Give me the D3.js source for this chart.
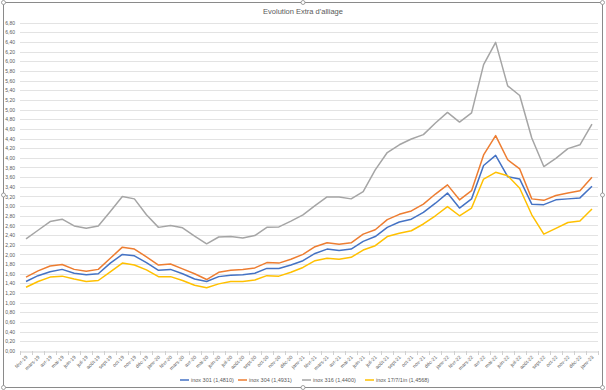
<!DOCTYPE html>
<html><head><meta charset="utf-8">
<script src="https://cdn.jsdelivr.net/npm/d3@7"></script>
<style>html,body{margin:0;padding:0;background:#fff;}svg{display:block;font-family:"Liberation Sans",Arial,sans-serif;}</style>
</head><body>
<svg id="c" width="606" height="390"></svg>
<script>
const monthNames = ["janv","févr","mars","avr","mai","juin","juil","août","sept","oct","nov","déc"];
const categories = [];
for (let k = 1; k <= 48; k++) { const m = k % 12, y = 19 + Math.floor(k / 12); categories.push(monthNames[m] + "-" + y); }

const inox301 = [1.44,1.56,1.64,1.69,1.61,1.58,1.60,1.82,2.00,1.97,1.83,1.67,1.69,1.60,1.49,1.44,1.54,1.57,1.58,1.61,1.71,1.71,1.78,1.87,2.02,2.11,2.08,2.11,2.27,2.37,2.56,2.67,2.73,2.87,3.06,3.27,2.96,3.15,3.84,4.05,3.61,3.56,3.04,3.03,3.13,3.15,3.17,3.41];
const inox304 = [1.53,1.66,1.76,1.79,1.69,1.65,1.69,1.92,2.15,2.11,1.95,1.78,1.80,1.70,1.60,1.48,1.63,1.67,1.69,1.72,1.83,1.82,1.90,2.00,2.16,2.24,2.21,2.24,2.42,2.51,2.72,2.83,2.90,3.04,3.25,3.44,3.13,3.32,4.06,4.46,3.96,3.77,3.15,3.12,3.22,3.27,3.32,3.60];
const inox316 = [2.32,2.50,2.68,2.73,2.59,2.54,2.59,2.89,3.20,3.15,2.82,2.56,2.60,2.55,2.38,2.22,2.36,2.37,2.34,2.39,2.56,2.57,2.69,2.82,3.01,3.19,3.19,3.15,3.30,3.75,4.11,4.27,4.39,4.48,4.72,4.94,4.74,4.93,5.93,6.39,5.49,5.29,4.41,3.82,3.99,4.19,4.27,4.70];
const inox1771 = [1.32,1.44,1.53,1.55,1.49,1.44,1.46,1.64,1.82,1.78,1.68,1.54,1.54,1.46,1.36,1.31,1.39,1.44,1.44,1.47,1.56,1.55,1.63,1.73,1.87,1.92,1.90,1.94,2.09,2.18,2.37,2.44,2.49,2.63,2.80,2.99,2.80,2.96,3.56,3.70,3.63,3.37,2.82,2.42,2.54,2.66,2.69,2.94];
const seriesNames = ["inox 301 (1,4810)","inox 304 (1,4931)","inox 316 (1,4400)","inox 17/7/1in (1,4568)"];
const seriesColors = ["#4472C4","#ED7D31","#A5A5A5","#FFC000"];
const yTicks = d3.range(0, 6.81, 0.2);

const svg = d3.select("#c");
// chart frame
svg.append("rect").attr("x",3.5).attr("y",2.5).attr("width",599).attr("height",385).attr("rx",2)
  .attr("fill","#fff").attr("stroke","#8a8a8a").attr("stroke-width",1);

const L = 20, R = 598, T = 22.6, B = 351;
const x = d3.scaleBand().domain(categories).range([L, R]);
const y = d3.scaleLinear().domain([0, 6.8]).range([B, T]);

svg.append("text").attr("x",303).attr("y",14).attr("text-anchor","middle")
  .attr("font-size",7.5).attr("fill","#595959").text("Evolution Extra d'alliage");

// gridlines
svg.append("g").selectAll("line").data(yTicks.slice(1)).join("line")
  .attr("x1",L).attr("x2",R).attr("y1",d=>Math.round(y(d))+0.5).attr("y2",d=>Math.round(y(d))+0.5)
  .attr("stroke","#e3e3e3").attr("stroke-width",1);

// y axis
const fmt = d => d.toFixed(2).replace(".", ",");
const yAxis = svg.append("g").attr("transform",`translate(${L},0)`)
  .call(d3.axisLeft(y).tickValues(yTicks).tickFormat(fmt).tickSize(0).tickPadding(5));
yAxis.select(".domain").remove();
yAxis.selectAll("text").attr("font-size",5).attr("fill","#595959").attr("font-family","Liberation Sans, Arial, sans-serif");

// x axis
const xAxis = svg.append("g").attr("transform",`translate(0,${Math.round(B)+0.5})`)
  .call(d3.axisBottom(x).tickSize(0).tickFormat(d=>d));
xAxis.select(".domain").attr("stroke","#d0d0d0");
xAxis.selectAll("text").attr("font-size",5).attr("fill","#595959").attr("font-family","Liberation Sans, Arial, sans-serif")
  .attr("text-anchor","end").attr("dy",0).attr("y",0)
  .attr("transform","translate(2,6) rotate(-45)");
// category boundary ticks
svg.append("g").selectAll("line").data(categories.concat(["__end"])).join("line")
  .attr("x1",(d,i)=>Math.round(L + i*x.step())+0.5).attr("x2",(d,i)=>Math.round(L + i*x.step())+0.5)
  .attr("y1",Math.round(B)).attr("y2",Math.round(B)+4).attr("stroke","#d0d0d0");

// lines
const allSeries = [inox301, inox304, inox316, inox1771];
const line = d3.line().x((d,i)=>x(categories[i]) + x.bandwidth()/2).y(d=>y(d));
const drawOrder = [2,1,0,3];
drawOrder.forEach(s=>{
  svg.append("path").datum(allSeries[s]).attr("d",line).attr("fill","none")
    .attr("stroke",seriesColors[s]).attr("stroke-width",1.5).attr("stroke-linejoin","round");
});

// legend
const legX = [180, 238, 302, 365];
const leg = svg.append("g").selectAll("g").data(seriesNames).join("g")
  .attr("transform",(d,i)=>`translate(${legX[i]},380)`);
leg.append("line").attr("x1",0).attr("x2",9).attr("y1",0).attr("y2",0)
  .attr("stroke",(d,i)=>seriesColors[i]).attr("stroke-width",1.5);
leg.append("text").attr("x",11).attr("y",2).attr("font-size",5.5).attr("fill","#595959").text(d=>d);

// selection handles
[[3.5,2.5],[303,2.5],[602.5,2.5],[3.5,195],[602.5,195],[3.5,387.5],[303,387.5],[602.5,387.5]].forEach(p=>{
  svg.append("circle").attr("cx",p[0]).attr("cy",p[1]).attr("r",2).attr("fill","#fff").attr("stroke","#8a8a8a").attr("stroke-width",0.8);
});
</script>
</body></html>
